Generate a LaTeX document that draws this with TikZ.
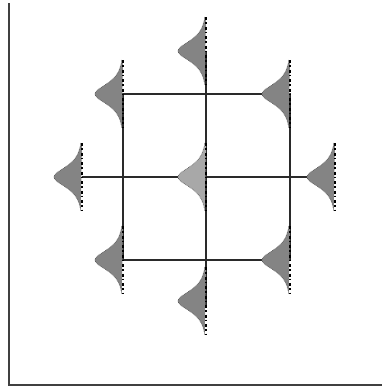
\documentclass[tikz,border=0pt]{standalone}
\definecolor{peakgray}{HTML}{848484}
\definecolor{centergray}{HTML}{A8A8A8}
\definecolor{linec}{HTML}{2A2A2A}
\tikzset{
  gridline/.style={draw=linec, line width=1.4pt},
  axisline/.style={draw=black!75, line width=2pt},
  peakbase/.style={draw=black, line width=1.6pt, dash pattern=on 3pt off 2pt on 1.5pt off 3pt},
  peakedge/.style={draw=black!70, line width=0.6pt, densely dotted},
}
% \gpeak{coordinate}{fill colour}
\newcommand{\gpeak}[2]{%
  \begin{scope}[shift={(#1)}]
    \path[fill=#2] (0,-34) -- plot[domain=-34:34, samples=69] ({-56/(exp(\x/9)+exp(-\x/9))},{\x}) -- cycle;
    \draw[peakedge] plot[domain=-34:34, samples=69] ({-56/(exp(\x/9)+exp(-\x/9))},{\x});
    \draw[peakbase] (0,-34) -- (0,34);
  \end{scope}
}
\begin{document}
\begin{tikzpicture}[x=1pt,y=-1pt]
  \useasboundingbox (0,0) rectangle (382,389);
  % axes
  \coordinate (axtop) at (9,3);
  \coordinate (axorigin) at (9,385);
  \coordinate (axright) at (382,385);
  \draw[axisline] (axtop) -- (axorigin) -- (axright);
  % lattice points
  \coordinate (ul) at (123,94);
  \coordinate (ur) at (290,94);
  \coordinate (ll) at (123,260);
  \coordinate (lr) at (290,260);
  \coordinate (c) at (206,177);
  \coordinate (t) at (206,51);
  \coordinate (b) at (206,301);
  \coordinate (l) at (82,177);
  \coordinate (r) at (335,177);
  \coordinate (rtip) at (308,177);
  \coordinate (bend) at (206,305);
  % grid lines
  \draw[gridline] (ul) -- (ur) -- (lr) -- (ll) -- cycle;
  \draw[gridline] (t) -- (bend);
  \draw[gridline] (l) -- (rtip);
  % peaks
  \gpeak{t}{peakgray}
  \gpeak{ul}{peakgray}
  \gpeak{ur}{peakgray}
  \gpeak{l}{peakgray}
  \gpeak{c}{centergray}
  \gpeak{r}{peakgray}
  \gpeak{ll}{peakgray}
  \gpeak{lr}{peakgray}
  \gpeak{b}{peakgray}
\end{tikzpicture}
\end{document}
